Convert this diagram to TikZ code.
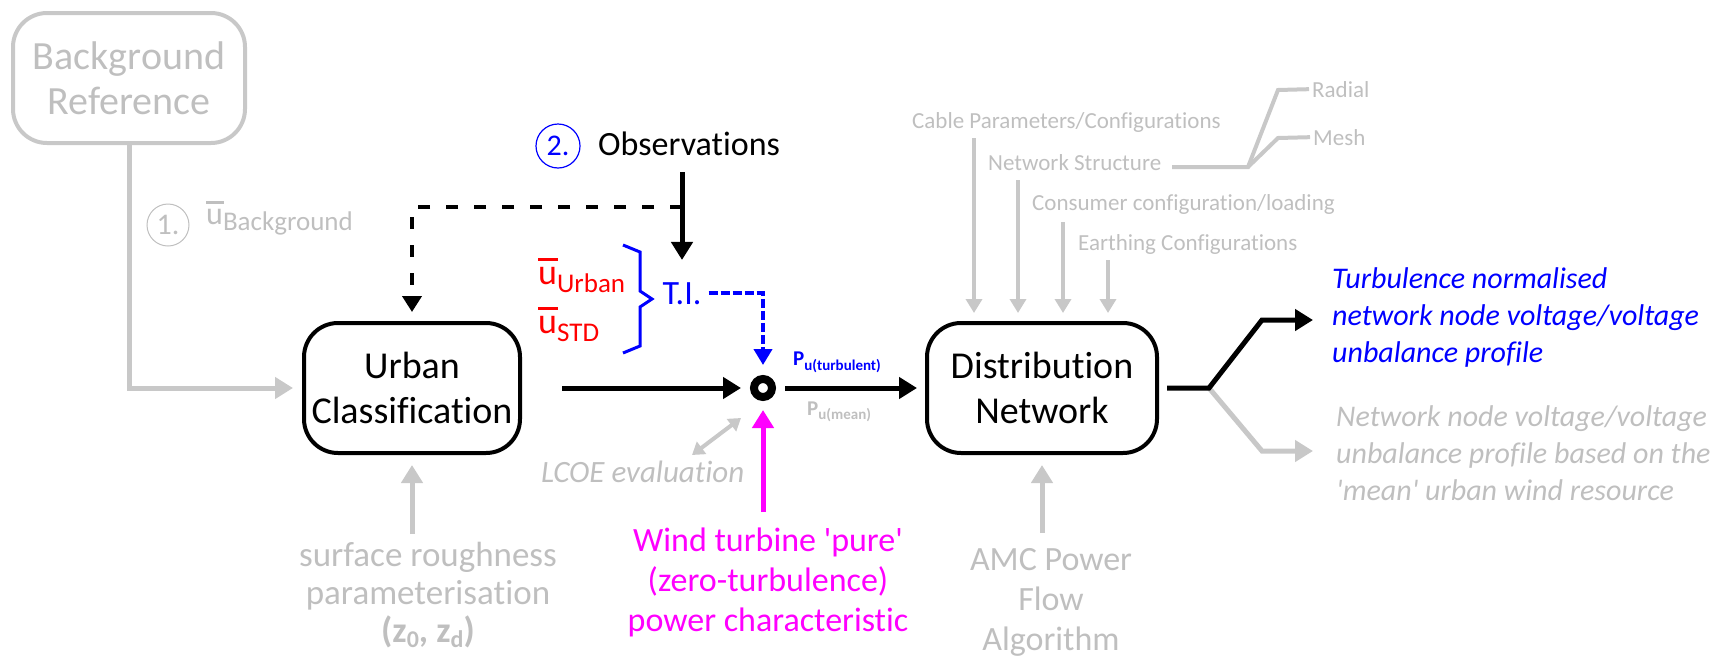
\documentclass[tikz,border=0pt]{standalone}
\usepackage{fontspec}
\setmainfont{Carlito}[Ligatures={TeX,NoCommon}]
\usetikzlibrary{arrows.meta}

\definecolor{tgray}{RGB}{191,191,191}
\definecolor{agray}{RGB}{200,200,200}
\definecolor{pink}{RGB}{255,0,255}

\newcommand\fs[2]{\fontsize{#1}{#2}\selectfont}
% mean quantity: u with a bar, followed by a lowered subscript
\newcommand\meanvar[4]{{\fs{#1}{#1}\rlap{\raisebox{.64em}{\rule{.56em}{.075em}}}u}\raisebox{-#3}{\fs{#2}{#2}#4}}

\begin{document}
\begin{tikzpicture}[x=1pt,y=-1pt,
  box/.style={draw, line width=4pt, rounded corners=34pt, minimum width=230pt,
    minimum height=130pt, align=center, font=\fs{38}{45}, inner sep=0pt},
  lbl/.style={inner sep=0pt},
  barrow/.style={draw=black, line width=5pt, -{Triangle[length=18pt,width=21pt]}},
  garrow/.style={draw=agray, line width=5pt, -{Triangle[length=18pt,width=21pt]}},
  tarrow/.style={draw=agray, line width=4pt, -{Triangle[length=14pt,width=16pt]}},
  bdash/.style={draw=black, line width=4pt, dash pattern=on 12pt off 16pt,
    -{Triangle[length=16pt,width=19pt]}},
  tdash/.style={draw=blue, line width=4pt, dash pattern=on 9pt off 3pt,
    -{Triangle[length=16pt,width=18pt]}},
  branch/.style={draw=agray, line width=4pt, line join=miter},
]
\useasboundingbox (0,0) rectangle (1723,659);

% main blocks
\node[box, draw=agray, text=tgray, font=\fs{40}{45}, minimum width=232pt] (bgref) at (129,78) {Background\\Reference};
\node[box, minimum width=216pt] (urban) at (412,388) {Urban\\Classification};
\node[box] (dist) at (1042,388) {Distribution\\Network};
\node[circle, draw, line width=8pt, minimum size=18pt, inner sep=0pt] (sum) at (763,388) {};

% step 1: background wind
\node[circle, draw=tgray, line width=1pt, minimum size=42pt, inner sep=0pt, text=tgray, font=\fs{30}{30}] (n1) at (168,225) {1.};
\node[lbl, anchor=base west, text=tgray] (ubg) at (206,224) {\meanvar{32}{27}{6pt}{Background}};
\draw[garrow, shorten >=9pt] (bgref.south) |- (urban.west);

% step 2: observations
\node[circle, draw=blue, line width=1.2pt, minimum size=44pt, inner sep=0pt, text=blue, font=\fs{30}{30}] (n2) at (558,146) {2.};
\node[lbl, anchor=base west, font=\fs{34}{34}] (obs) at (598,155) {Observations};
\coordinate (obsfoot) at (682,172);
\coordinate (dashstart) at (682,207);
\node[lbl, anchor=base, text=blue, font=\fs{34}{34}] (ti) at (682,304) {T.I.};
\draw[bdash, shorten >=9pt] (dashstart) -| (urban.north);
\draw[barrow, shorten >=22pt] (obsfoot) -- (ti.north);

% urban mean and standard deviation
\node[lbl, anchor=base west, text=red] (uurb) at (538,284) {\meanvar{36}{27}{8pt}{Urban}};
\node[lbl, anchor=base west, text=red] (ustd) at (538,333) {\meanvar{36}{27}{8pt}{STD}};
\draw[blue, line width=3pt, line join=miter]
  (623,245) -- (640,252) -- (640,291) -- (652,299) -- (640,307) -- (640,346) -- (623,353);
\draw[tdash, shorten <=7pt, shorten >=10pt] (ti.east) -| (sum.north);

% power path
\draw[barrow, shorten <=40pt, shorten >=9pt] (urban.east) -- (sum.west);
\draw[barrow, shorten <=9pt, shorten >=8pt] (sum.east) -- (dist.west);
\node[lbl, anchor=base west, text=blue] (pturb) at (793,365)
  {\bfseries\fs{21}{21}P\raisebox{-5pt}{\fs{15}{15}u(turbulent)}};
\node[lbl, anchor=base west, text=tgray] (pmean) at (807,415)
  {\bfseries\fs{21}{21}P\raisebox{-4pt}{\fs{15}{15}u(mean)}};

% LCOE
\node[lbl, anchor=base west, text=tgray, font=\itshape\fs{31}{31}] (lcoe) at (541,482) {LCOE evaluation};
\coordinate (lc1) at (692,455);
\coordinate (lc2) at (741,418);
\draw[draw=agray, line width=4pt, {Triangle[length=12pt,width=15pt]}-{Triangle[length=12pt,width=15pt]}] (lc1) -- (lc2);

% wind turbine characteristic
\node[lbl, anchor=north, align=center, text=pink, font=\fs{34}{40}] (wind) at (768,528)
  {Wind turbine \textquotesingle pure\textquotesingle\\(zero-turbulence)\\power characteristic};
\draw[draw=pink, line width=5pt, -{Triangle[length=18pt,width=21pt]}, shorten <=16pt, shorten >=9pt]
  (wind.north -| sum.south) -- (sum.south);

% surface roughness input
\node[lbl, anchor=north, align=center, text=tgray, font=\fs{35}{38}] (srf) at (428,542)
  {surface roughness\\parameterisation\\{\bfseries\fs{36}{36}(z\raisebox{-5pt}{\fs{24}{24}0}, z\raisebox{-5pt}{\fs{24}{24}d})}};
\draw[garrow, shorten <=8pt, shorten >=10pt] (srf.north -| urban.south) -- (urban.south);

% power flow algorithm
\node[lbl, anchor=north, align=center, text=tgray, font=\fs{34}{40}] (amc) at (1051,548)
  {AMC Power\\Flow\\Algorithm};
\draw[garrow, shorten <=15pt, shorten >=10pt] (amc.north -| dist.south) -- (dist.south);

% network inputs
\begin{scope}[every node/.style={lbl, anchor=base west, text=tgray, font=\fs{23}{23}}]
\node (cable) at (912,128) {Cable Parameters/Configurations};
\node (nstruct) at (988,170) {Network Structure};
\node (consumer) at (1032,210) {Consumer configuration/loading};
\node (earth) at (1078,250) {Earthing Configurations};
\node (radial) at (1312,97) {Radial};
\node (mesh) at (1313,145) {Mesh};
\end{scope}
\coordinate (a1) at (974,138);
\coordinate (a2) at (1018,180);
\coordinate (a3) at (1063,222);
\coordinate (a4) at (1108,260);
\foreach \c in {a1,a2,a3,a4}
  \draw[tarrow, shorten >=8pt] (\c) -- (\c |- dist.north);
\coordinate (nsstart) at (1172,167);
\coordinate (nsj) at (1248,167);
\draw[branch, shorten >=3pt] (nsstart) -- (nsj) -- (1278,90) -- (radial.west);
\draw[branch, shorten >=3pt] (nsj) -- (1278,138) -- (mesh.west);

% outputs
\coordinate (split) at (1209,388);
\node[lbl, anchor=north west, align=left, text=blue, font=\itshape\fs{30}{37}] (out1) at (1332,267)
  {Turbulence normalised\\network node voltage/voltage\\unbalance profile};
\node[lbl, anchor=north west, align=left, text=tgray, font=\itshape\fs{30}{37}] (out2) at (1336,405)
  {Network node voltage/voltage\\unbalance profile based on the\\\textquotesingle mean\textquotesingle{} urban wind resource};
\coordinate (tip1) at (1313,320);
\coordinate (tip2) at (1313,451);
\draw[garrow, line join=miter] (split) -- (1262,451) -- (tip2);
\draw[barrow, line join=miter, shorten <=8pt] (dist.east) -- (split) -- (1262,320) -- (tip1);
\end{tikzpicture}
\end{document}
